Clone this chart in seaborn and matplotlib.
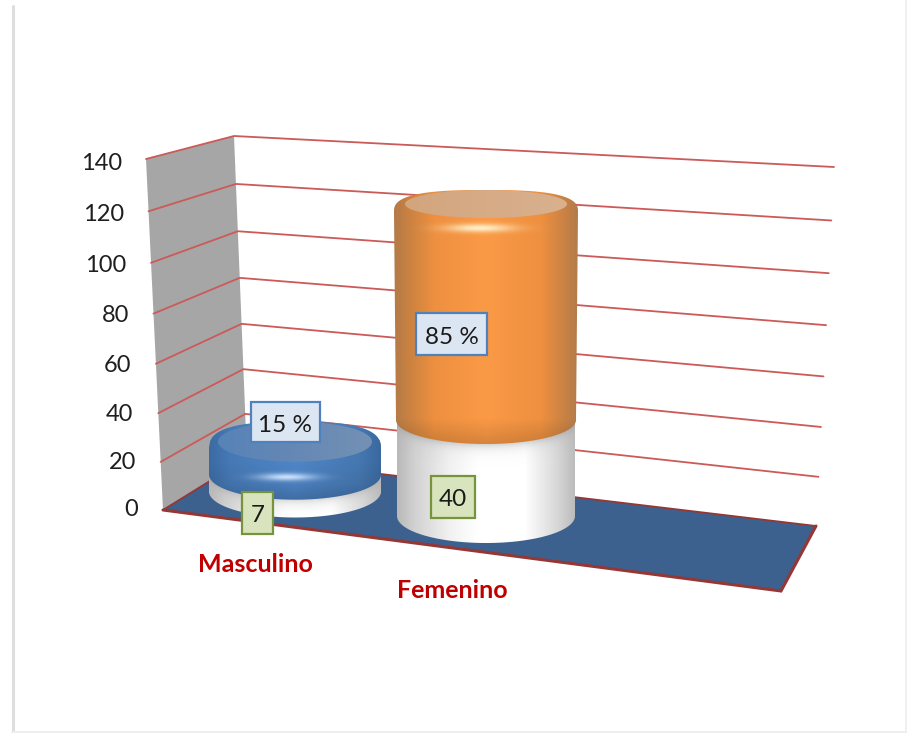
import numpy as np
import pandas as pd
import matplotlib
matplotlib.use("Agg")
import matplotlib.pyplot as plt
import seaborn as sns
from matplotlib.path import Path
from matplotlib.patches import PathPatch, Polygon, Rectangle
from matplotlib.transforms import Affine2D
from matplotlib.colors import to_rgb

# ---- data ----
categories = ["Masculino", "Femenino"]
counts = [7, 40]
percents = [15, 85]
percent_labels = ["15 %", "85 %"]
count_labels = ["7", "40"]
y_ticks = [0, 20, 40, 60, 80, 100, 120, 140]

# ---- style ----
W, H = 907, 733
sns.set_theme(style="white")
plt.rcParams["font.family"] = ["Lato", "DejaVu Sans"]
RED_GRID = "#cb5a58"
FLOOR_EDGE = "#953735"
FLOOR = "#3c618f"
WALL = "#a6a6a6"
LABEL_RED = "#c00000"

fig = plt.figure(figsize=(W / 100, H / 100), dpi=100, facecolor="white")
ax = fig.add_axes([0, 0, 1, 1])

# value scale of the plane through the cylinder centres
X0, DX = 295.0, 191.0        # px of category 0, px between categories
Y0, SHEAR = 491.5, 24.5      # px of value 0 at category 0, drop per category
PPU = 2.4                    # px per value unit
px = Affine2D().scale(1, -1).translate(0, H)   # image pixels -> display


def to_px(cat, v):
    return X0 + DX * cat, Y0 + SHEAR * cat - PPU * v


# stacked bars from seaborn: totals first, then the lower series on top
df = pd.DataFrame({"cat": categories, "count": counts,
                   "total": np.add(counts, percents)})
sns.barplot(data=df, x="cat", y="total", hue="cat", palette=["#4f81bd", "#f79646"],
            width=0.9, legend=False, ax=ax, saturation=1, zorder=5)
sns.barplot(data=df, x="cat", y="count", color="white", width=0.9,
            ax=ax, saturation=1, zorder=5)
ax.set_autoscale_on(False)
ax.set_xlim(-X0 / DX, (W - X0) / DX)
ax.set_ylim((Y0 - H) / PPU, Y0 / PPU)
ax.axis("off")
bars = list(ax.patches)

# ---- wall, floor, gridlines (perspective box) ----
FRONT = ((163, 510), (146, 159))
BACK = ((247, 458), (234, 136))
RIGHT = ((816, 526), (834, 167))
VMAX = 140.0


def persp(edge, v):
    s = v / VMAX
    f = s / (s + (1 - s) * 1.05)
    (x0, y0), (x1, y1) = edge
    return x0 + (x1 - x0) * f, y0 + (y1 - y0) * f


ax.add_patch(Polygon([persp(FRONT, 0), persp(FRONT, VMAX), persp(BACK, VMAX), persp(BACK, 0)],
                     closed=True, fc=WALL, ec="none", transform=px, zorder=1))
for v in y_ticks[1:]:
    pts = np.array([persp(FRONT, v), persp(BACK, v), persp(RIGHT, v)])
    ax.plot(pts[:, 0], pts[:, 1], color=RED_GRID, lw=1.3, transform=px, zorder=2,
            solid_capstyle="round")
floor_front_right = (781, 591)
floor_pts = [persp(FRONT, 0), persp(BACK, 0), persp(RIGHT, 0), floor_front_right]
ax.add_patch(Polygon(floor_pts, closed=True, fc=FLOOR, ec="none", transform=px, zorder=2.5))
fp = np.array(floor_pts)
ax.plot(fp[[0, 1, 2], 0], fp[[0, 1, 2], 1], color=FLOOR_EDGE, lw=1.3, transform=px, zorder=2.6)
ax.plot(fp[[2, 3, 0], 0], fp[[2, 3, 0], 1], color=FLOOR_EDGE, lw=2.2, transform=px, zorder=2.6,
        solid_joinstyle="miter")


# ---- cylinder helpers ----
def cyl_path(xc, yt, at, bt, yb, ab, bb, round_top=1.0):
    t = np.linspace(0, np.pi, 120)
    c, s = np.cos(t), np.sin(t)
    top = np.c_[xc + at * np.sign(c) * np.abs(c) ** round_top, yt - bt * np.abs(s) ** round_top]
    bot = np.c_[xc - ab * c, yb + bb * s]
    pts = np.r_[top, bot, top[:1]]
    return Path(pts, closed=True)


def clip_patch(path):
    p = PathPatch(path, transform=px, fc="none", ec="none")
    ax.add_patch(p)
    return p


def ramp(stops, n):
    pos = [s[0] for s in stops]
    rgb = np.array([to_rgb(s[1]) for s in stops])
    xs = np.linspace(0, 1, n)
    return np.c_[[np.interp(xs, pos, rgb[:, k]) for k in range(3)]].T


def paint(x0, x1, y0, y1, img, clip, z):
    im = ax.imshow(img, extent=(x0, x1, y1, y0), transform=px, aspect="auto",
                   interpolation="bilinear", zorder=z)
    im.set_clip_path(clip)


def body(path, x0, x1, y0, y1, stops, z, vstops=None):
    nx, ny = 200, 200
    img = np.repeat(ramp(stops, nx)[None, :, :], ny, axis=0)
    if vstops is not None:
        vs = np.interp(np.linspace(0, 1, ny), [s[0] for s in vstops], [s[1] for s in vstops])
        img = img * vs[:, None, None]
    paint(x0, x1, y0, y1, np.clip(img, 0, 1), clip_patch(path), z)


def glow(cx, cy, sx, sy, color, strength, clip, z):
    xs = np.linspace(cx - 3 * sx, cx + 3 * sx, 120)
    ys = np.linspace(cy - 3 * sy, cy + 3 * sy, 60)
    xx, yy = np.meshgrid(xs, ys)
    a = strength * np.exp(-((xx - cx) / sx) ** 2 / 2 - ((yy - cy) / sy) ** 2 / 2)
    img = np.dstack([np.full(a.shape, c) for c in to_rgb(color)] + [a])
    paint(xs[0], xs[-1], ys[0], ys[-1], img, clip, z)


# per-category cylinder looks
WHITE_A = [86, 89]
WHITE_B = [26, 27]
TOP_A_BOTTOM = [86, 90]
TOP_B_BOTTOM = [25, 24]
TOP_A_TOP = [86, 92]
TOP_B_TOP = [28, 22]
TOP_SHIFT = [11, -4]
ROUND_TOP = 0.72
FACE_A = [77, 81]
FACE_B = [20, 14]
FACE_SHIFT = [-8, -8]
BODY_STOPS = [
    [(0, "#3c6ba3"), (0.12, "#4679b5"), (0.5, "#4f86c8"), (0.88, "#4577b0"), (1, "#3b689e")],
    [(0, "#b37a48"), (0.1, "#cf8440"), (0.22, "#ee9040"), (0.5, "#fb9a46"), (0.8, "#ee9040"),
     (0.93, "#c98244"), (1, "#b27c4c")],
]
FACE_STOPS = [
    [(0, "#5783b8"), (0.5, "#6588b4"), (1, "#7491b5")],
    [(0, "#d2a57d"), (0.5, "#d6ab86"), (1, "#d9b18f")],
]
BODY_V = [[(0, 1.0), (0.5, 1.0), (0.8, 0.94), (1, 0.82)], [(0, 1.0), (0.9, 1.0), (1, 0.86)]]
GLOW_AT = [(-8, 477), (-6, 228)]
GLOW = [(20, 2.6, "#cfe6ff", 0.95), (24, 3.0, "#fff4cf", 0.95)]
WHITE_STOPS = [(0, "#b9b9b9"), (0.1, "#d2d2d2"), (0.3, "#f2f2f2"), (0.45, "#ffffff"),
               (0.72, "#ffffff"), (0.9, "#d8d8d8"), (1, "#bcbcbc")]

for i, cat in enumerate(categories):
    xc, yb = to_px(i, 0)
    _, y_mid = to_px(i, counts[i])
    _, y_tot = to_px(i, counts[i] + percents[i])
    yt = y_tot + TOP_SHIFT[i]

    # white lower segment
    wp = cyl_path(xc, y_mid, WHITE_A[i], TOP_B_BOTTOM[i], yb, WHITE_A[i], WHITE_B[i])
    wclip = clip_patch(wp)
    body(wp, xc - WHITE_A[i], xc + WHITE_A[i], y_mid - 30, yb + 30, WHITE_STOPS, 6)
    # shadow cast below the upper segment
    xs = np.linspace(xc - WHITE_A[i], xc + WHITE_A[i], 200)
    ys = np.linspace(y_mid, yb + 30, 200)
    xx, yy = np.meshgrid(xs, ys)
    rim = y_mid + TOP_B_BOTTOM[i] * np.sqrt(np.clip(1 - ((xx - xc) / TOP_A_BOTTOM[i]) ** 2, 0, 1))
    al = 0.38 * np.exp(-np.clip(yy - rim, 0, None) / 5.0)
    paint(xs[0], xs[-1], ys[0], ys[-1], np.dstack([al * 0 + .55, al * 0 + .55, al * 0 + .55, al]), wclip, 6.5)

    # coloured upper segment
    tp = cyl_path(xc, yt, TOP_A_TOP[i], TOP_B_TOP[i], y_mid, TOP_A_BOTTOM[i], TOP_B_BOTTOM[i],
                  round_top=ROUND_TOP)
    tclip = clip_patch(tp)
    body(tp, xc - TOP_A_TOP[i], xc + TOP_A_TOP[i], yt - TOP_B_TOP[i], y_mid + TOP_B_BOTTOM[i],
         BODY_STOPS[i], 7, BODY_V[i])
    # top face
    yf = yt + FACE_SHIFT[i]
    t = np.linspace(0, 2 * np.pi, 120)
    fpath = Path(np.c_[xc + FACE_A[i] * np.cos(t), yf + FACE_B[i] * np.sin(t)], closed=True)
    body(fpath, xc - FACE_A[i], xc + FACE_A[i], yf - FACE_B[i], yf + FACE_B[i], FACE_STOPS[i], 8)
    # highlight on the front of the rim
    sx, sy, gc, gs = GLOW[i]
    glow(xc + GLOW_AT[i][0], GLOW_AT[i][1], sx, sy, gc, gs, tclip, 9)

    # seaborn's rectangles stay under the cylinders, clipped to their outline
    shift = Affine2D().translate(0, -SHEAR / PPU * i) + ax.transData
    for b in bars:
        if abs(b.get_x() + b.get_width() / 2 - i) < 0.2:
            b.set_transform(shift)
            b.set_clip_path(wclip if b.get_height() == counts[i] else tclip)

# ---- value labels ----
BOX_P = [(251, 402, 69, 40), (416, 313, 71, 42)]
BOX_C = [(242, 492, 31, 42), (431, 476, 44, 42)]
LABEL_SIZE = 17.5
for (x, y, w, h), s in zip(BOX_P, percent_labels):
    ax.add_patch(Rectangle((x, y), w, h, fc="#dce6f2", ec="#4f81bd", lw=1.6, transform=px, zorder=12))
    ax.text(x + w / 2, y + h / 2 + 1, s, transform=px, ha="center", va="center_baseline",
            fontsize=LABEL_SIZE, color="#1a1a1a", zorder=13)
for (x, y, w, h), s in zip(BOX_C, count_labels):
    ax.add_patch(Rectangle((x, y), w, h, fc="#d7e4bd", ec="#77933c", lw=1.6, transform=px, zorder=12))
    ax.text(x + w / 2, y + h / 2 + 1, s, transform=px, ha="center", va="center_baseline",
            fontsize=LABEL_SIZE, color="#1a1a1a", zorder=13)

# ---- axis texts ----
for v in y_ticks:
    x, y = persp(FRONT, v)
    s = v / VMAX
    ax.text(x - 25 + s, y - 2 + 4 * s, str(v), transform=px, ha="right", va="center_baseline",
            fontsize=17, color="#1f1f1f", zorder=13)
CAT_POS = [(255, 563), (452, 589)]
for (x, y), c in zip(CAT_POS, categories):
    ax.text(x, y, c, transform=px, ha="center", va="center_baseline", fontsize=18,
            fontweight="bold", color=LABEL_RED, zorder=13)

# ---- picture frame ----
ax.plot([12.5, 12.5], [6, H], color="#dedede", lw=2.2, transform=px, zorder=0)
ax.plot([906, 906], [0, H], color="#f0f0f0", lw=2, transform=px, zorder=0)
ax.plot([12, W], [732, 732], color="#eeeeee", lw=2, transform=px, zorder=0)

fig.savefig("out.png", dpi=100, facecolor="white")
